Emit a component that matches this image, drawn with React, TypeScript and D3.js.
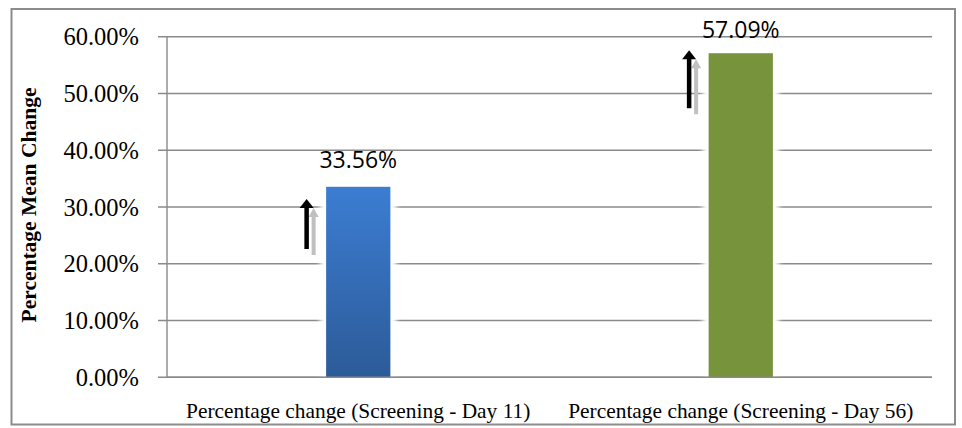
import React from "react";
import * as d3 from "d3";

// Chart data
const categories = [
  "Percentage change (Screening - Day 11)",
  "Percentage change (Screening - Day 56)",
];
const values = [33.56, 57.09];
const barColors = [
  ["#3c7dd2", "#2c5b98"],
  ["#77933c", "#77933c"],
];
const yTicks = [0, 10, 20, 30, 40, 50, 60];
// Upward arrow annotations (in percentage units): top and bottom of each arrow
const arrowTops = [31.4, 57.6];
const arrowBottoms = [22.6, 47.4];

const W = 962;
const H = 428;
const margin = { left: 167, right: 30, top: 36.7, bottom: 50.7 };

export default function App() {
  const x = d3
    .scaleBand<string>()
    .domain(categories)
    .range([margin.left, W - margin.right])
    .paddingInner(0.832)
    .paddingOuter(0.416);
  const y = d3
    .scaleLinear()
    .domain([0, 60])
    .range([H - margin.bottom, margin.top]);

  const serif = "'Liberation Serif', 'Times New Roman', serif";
  const sans = "'Open Sans', 'Liberation Sans', sans-serif";
  const grid = "#8a8a8a";

  return (
    <svg
      width={W}
      height={H}
      style={{ position: "absolute", left: 0, top: 0, background: "#fff" }}
    >
      <defs>
        {barColors.map((c, i) => (
          <linearGradient key={i} id={`bar-grad-${i}`} x1="0" y1="0" x2="0" y2="1">
            <stop offset="0%" stopColor={c[0]} />
            <stop offset="100%" stopColor={c[1]} />
          </linearGradient>
        ))}
        <filter id="glow" x="-50%" y="-20%" width="200%" height="140%">
          <feGaussianBlur stdDeviation="2.5" />
        </filter>
      </defs>

      {/* outer frame */}
      <rect x={11.5} y={9} width={943.5} height={415.5} fill="none" stroke="#8c8c8c" strokeWidth={2} />

      {/* gridlines and tick marks */}
      {yTicks.map((t) => (
        <g key={t}>
          <line
            x1={margin.left - 9}
            x2={W - margin.right}
            y1={y(t)}
            y2={y(t)}
            stroke={grid}
            strokeWidth={1.4}
          />
          <text
            x={139}
            y={y(t)}
            dy="0.35em"
            textAnchor="end"
            fontFamily={serif}
            fontSize={24.5}
            fill="#000"
          >
            {t.toFixed(2)}%
          </text>
        </g>
      ))}
      <line
        x1={margin.left}
        x2={margin.left}
        y1={y(60)}
        y2={y(0)}
        stroke={grid}
        strokeWidth={1.4}
      />

      {/* y-axis title */}
      <text
        transform={`translate(36, ${(y(0) + y(60)) / 2 - 2}) rotate(-90)`}
        textAnchor="middle"
        fontFamily={serif}
        fontWeight="bold"
        fontSize={21.5}
        fill="#000"
      >
        Percentage Mean Change
      </text>

      {/* bars */}
      {categories.map((c, i) => {
        const bx = x(c)!;
        const bw = x.bandwidth();
        const top = y(values[i]);
        const bh = y(0) - top;
        return (
          <g key={c}>
            <rect
              x={bx - 6}
              y={top - 2}
              width={bw + 12}
              height={bh + 1}
              fill="#fff"
              filter="url(#glow)"
            />
            <rect x={bx} y={top} width={bw} height={bh} fill={`url(#bar-grad-${i})`} />
          </g>
        );
      })}
      {/* baseline over bars */}
      <line
        x1={margin.left}
        x2={W - margin.right}
        y1={y(0)}
        y2={y(0)}
        stroke={grid}
        strokeWidth={1.4}
      />

      {/* value labels */}
      {categories.map((c, i) => {
        const cx = x(c)! + x.bandwidth() / 2;
        const ly = Math.max(y(values[i]) - 19, y(60) + 1.6);
        return (
          <text
            key={c}
            x={cx}
            y={ly}
            textAnchor="middle"
            fontFamily={sans}
            fontSize={23}
            fill="#000"
          >
            {values[i].toFixed(2)}%
          </text>
        );
      })}

      {/* arrows with gray shadow */}
      {categories.map((c, i) => {
        const ax = x(c)! - 19.5;
        const t = y(arrowTops[i]);
        const b = y(arrowBottoms[i]);
        const arrow = (cx: number, tip: number, bot: number, fill: string, sw: number, hw: number) => (
          <g>
            <rect x={cx - sw / 2} y={tip + 7} width={sw} height={bot - tip - 7} fill={fill} />
            <path d={`M${cx},${tip} L${cx + hw / 2},${tip + 9} L${cx - hw / 2},${tip + 9} Z`} fill={fill} />
          </g>
        );
        return (
          <g key={c}>
            {arrow(ax + 7, t + 9, b + 6, "#c0c0c0", 4, 10)}
            {arrow(ax, t, b, "#000", 4.5, 14)}
          </g>
        );
      })}

      {/* category labels */}
      {categories.map((c) => (
        <text
          key={c}
          x={x(c)! + x.bandwidth() / 2}
          y={418}
          textAnchor="middle"
          fontFamily={serif}
          fontSize={21.4}
          fill="#000"
        >
          {c}
        </text>
      ))}
    </svg>
  );
}
